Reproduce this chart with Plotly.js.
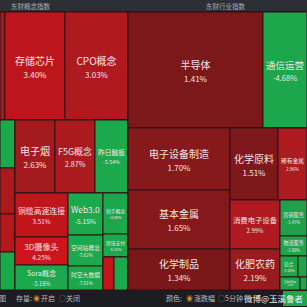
<!DOCTYPE html>
<html><head><meta charset="utf-8">
<script src="https://cdn.plot.ly/plotly-3.0.1.min.js"></script>
<style>html,body{margin:0;padding:0;background:#1b1d22;}#chart{width:307px;height:307px;}</style>
</head><body><div id="chart"></div>
<script>
// ---- 东财概念指数 (left panel) ----
const conceptIds = ["L","L1","Ltop","Lbot","Lx0","存储芯片","CPO概念","Lstrip","Lrest","Ls1","Ls2","Ls3","Ls4",
  "Lupper","Llower","电子烟","F5G概念","昨日触板","Lc1","Lc2","Lc3",
  "铜缆高速连接","3D摄像头","Sora概念","Web3.0","空间站概念","时空大数据","快手概念","跨境支付","Lpair","Lp1","Lp2"];
const conceptParents = ["","L","L1","L1","Ltop","Ltop","Ltop","Lbot","Lbot","Lstrip","Lstrip","Lstrip","Lstrip",
  "Lrest","Lrest","Lupper","Lupper","Lupper","Llower","Llower","Llower",
  "Lc1","Lc1","Lc1","Lc2","Lc2","Lc2","Lc3","Lc3","Lc3","Lpair","Lpair"];
const conceptNames = ["","","","","","存储芯片","CPO概念","","","","","","",
  "","","电子烟","F5G概念","昨日触板","","","",
  "铜缆高速连接","3D摄像头","Sora概念","Web3.0","空间站概念","时空大数据","快手概念","跨境支付","","",""];
const conceptSizes = [0,0,0,0,540,6480,6804,0,0,720,690,570,570,
  0,0,2920,2920,2409,0,0,0,
  2332,1484,1325,1470,1085,840,1025,575,0,363,462];
const conceptPct = [0,0,0,0,2.4,3.40,3.03,0,0,-4.9,2.8,3.1,-5.3,
  0,0,2.63,2.87,-5.54,0,0,0,
  3.51,4.25,-5.16,-5.15,-7.62,-7.81,-4.68,-6.22,0,3.8,-5.0];

// ---- 东财行业指数 (right panel) ----
const industryIds = ["R","R1","Rtop","Rbot","半导体","通信运营","RleftCol","RrightBlock",
  "电子设备制造","基本金属","化学制品","Rupper","Rlower","化学原料","稀有金属","RcolA","RcolB",
  "消费电子设备","化肥农药","营销服务","物流服务","Rg3","综合","Rg3b","Rg4","互联网服务","Rg4b"];
const industryParents = ["","R","R1","R1","Rtop","Rtop","Rbot","Rbot",
  "RleftCol","RleftCol","RleftCol","RrightBlock","RrightBlock","Rupper","Rupper","Rlower","Rlower",
  "RcolA","RcolA","RcolB","RcolB","RcolB","Rg3","Rg3","RcolB","Rg4","Rg4"];
const industryNames = ["","","","","半导体","通信运营","","",
  "电子设备制造","基本金属","化学制品","","","化学原料","稀有金属","","",
  "消费电子设备","化肥农药","营销服务","物流服务","","综合","","","互联网服务",""];
const industrySizes = [0,0,0,0,15660,5104,0,0,
  6324,6018,4182,0,0,3456,2088,0,0,
  2450,2050,972,540,0,378,189,0,260,91];
const industryPct = [0,0,0,0,1.41,-4.68,0,0,
  1.70,1.65,1.34,0,0,1.51,2.96,0,0,
  2.99,2.19,-1.47,-2.80,0,-3.10,-3.60,0,-3.30,-2.90];

const scale = [[0,'#1ca84c'],[0.35,'#21a04a'],[0.47,'#2c6a3a'],[0.5,'#3b3b3b'],[0.53,'#571a1b'],
  [0.63,'#781719'],[0.72,'#981b1f'],[0.8,'#ae1a1f'],[0.85,'#c0151b'],[0.93,'#ce161c'],[1,'#dc1a1f']];

function labelsOf(names, pct){
  return names.map((n,i)=> n ? n + '<br><span style="font-size:8px">' + pct[i].toFixed(2) + '%</span>' : '');
}
const F = '"Noto Sans CJK SC", "Noto Sans", sans-serif';
const H = 307;
const yDom = [17/H, 295/H];
function tm(ids, parents, names, sizes, pct, xd){
  return {
    type:'treemap', ids:ids, labels:ids, parents:parents, values:sizes,
    text: labelsOf(names, pct), textinfo:'text', textposition:'middle center',
    sort:false, branchvalues:'remainder',
    tiling:{packing:'slice-dice', pad:0},
    pathbar:{visible:false},
    marker:{colors:pct, colorscale:scale, cmin:-5, cmax:5, showscale:false,
      pad:{t:0,l:0,r:0,b:0}, line:{width:1, color:'#2a1416'}},
    textfont:{family:F, size:10, color:'#f4e4e4'},
    insidetextfont:{family:F, size:10, color:'#f4e4e4'},
    hoverinfo:'none',
    domain:{x:xd, y:yDom}
  };
}
const data = [
  tm(conceptIds, conceptParents, conceptNames, conceptSizes, conceptPct, [0, 128/H]),
  tm(industryIds, industryParents, industryNames, industrySizes, industryPct, [128/H, 1])
];
function px(x){return x/H;}
function py(y){return 1 - y/H;}
const tc = '#b9bcc2';
function ann(text, x, y, size, color, anchor){
  return {text:text, x:px(x), y:py(y), xref:'paper', yref:'paper', showarrow:false,
    xanchor:anchor||'left', yanchor:'middle', font:{family:F, size:size, color:color}};
}
const layout = {
  width:307, height:307, margin:{l:0,r:0,t:0,b:0},
  paper_bgcolor:'#1b1d22', plot_bgcolor:'#1b1d22', showlegend:false,
  shapes:[
    {type:'rect', xref:'paper', yref:'paper', x0:0, x1:1, y0:py(12), y1:1, fillcolor:'#2c2f36', line:{width:0}, layer:'below'},
    {type:'rect', xref:'paper', yref:'paper', x0:px(283), x1:1, y0:py(306), y1:py(291), fillcolor:'#1fa64a', line:{width:0}}
  ],
  annotations:[
    ann('东财概念指数', 9, 6, 6.5, '#a9aeb6'),
    ann('东财行业指数', 226, 6, 6.5, '#a9aeb6', 'center'),
    ann('图', -3, 298, 7, tc),
    ann('存量:', 14, 298, 7, tc),
    ann('◉', 31, 298, 7, '#d9852b'),
    ann('开启', 39, 298, 7, tc),
    ann('○', 57, 298, 7, '#8a8d93'),
    ann('关闭', 64, 298, 7, tc),
    ann('颜色:', 164, 298, 7, tc),
    ann('◉', 184, 298, 7, '#d9852b'),
    ann('涨跌幅', 192, 298, 7, tc),
    ann('○', 216, 298, 7, '#8a8d93'),
    ann('5分钟', 223, 298, 7, tc),
    ann('微博@玉溪鲁者', 306, 298, 8.5, '#f2f2f2', 'right')
  ]
};
Plotly.newPlot('chart', data, layout, {displayModeBar:false, staticPlot:true});
</script>
</body></html>
